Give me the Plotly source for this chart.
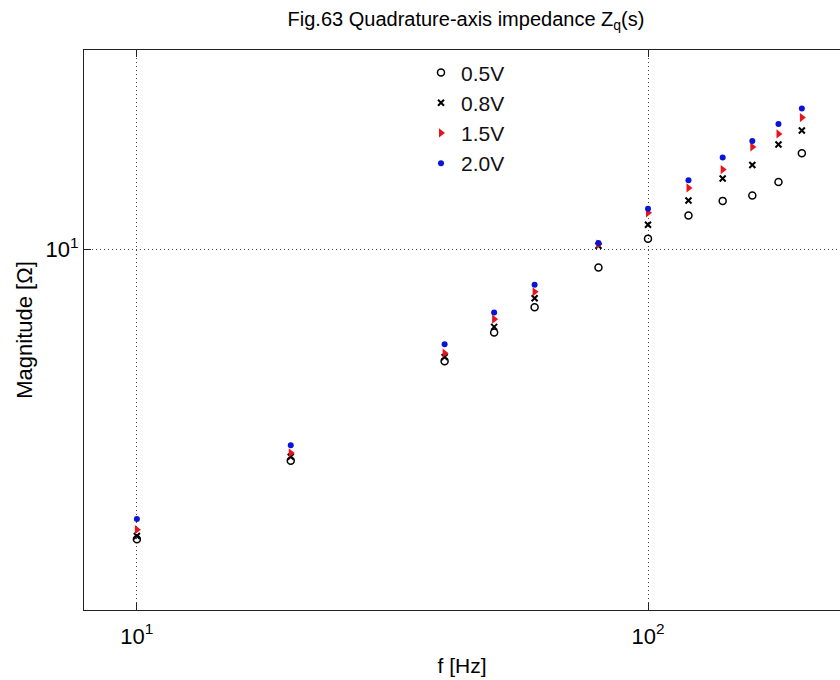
import math
import plotly.graph_objects as go

freq = [10, 20, 40, 50, 60, 80, 100, 120, 140, 160, 180, 200]
mag_05 = [2.71, 3.86, 6.05, 6.88, 7.71, 9.23, 10.51, 11.67, 12.46, 12.77, 13.56, 15.45]
mag_08 = [2.75, 3.93, 6.16, 7.06, 8.03, 10.18, 11.19, 12.48, 13.78, 14.65, 16.06, 17.11]
mag_15 = [2.83, 4.00, 6.27, 7.31, 8.27, 10.25, 11.81, 13.21, 14.35, 15.89, 16.85, 18.14]
mag_20 = [2.97, 4.14, 6.53, 7.53, 8.54, 10.30, 12.03, 13.68, 15.15, 16.33, 17.63, 18.89]

series_names = ["0.5V", "0.8V", "1.5V", "2.0V"]
x_ticks = [10, 100]
x_ticktext = ["10<sup>1</sup>", "10<sup>2</sup>"]
y_ticks = [10]
y_ticktext = ["10<sup>1</sup>"]

FONT = "Liberation Sans, Arial, sans-serif"

styles = [
    dict(symbol="circle-open", color="black", size=7, line=dict(width=1.5, color="black")),
    dict(symbol="x-thin-open", color="black", size=6, line=dict(width=2, color="black")),
    dict(symbol="triangle-right", color="#e8141b", size=8, line=dict(width=0)),
    dict(symbol="circle", color="#0a14d8", size=6, line=dict(width=0)),
]

fig = go.Figure()
for name, vals, st in zip(series_names, [mag_05, mag_08, mag_15, mag_20], styles):
    fig.add_trace(go.Scatter(x=freq, y=vals, mode="markers", name=name, marker=st))

fig.update_layout(
    width=840, height=680,
    margin=dict(l=84, r=0, t=50, b=70),
    paper_bgcolor="white", plot_bgcolor="white",
    font=dict(family=FONT, color="black"),
    title=dict(text="Fig.63 Quadrature-axis impedance Z<sub>q</sub>(s)",
               x=466 / 840, xanchor="center", y=1 - 19 / 680, yanchor="middle",
               font=dict(size=20, family=FONT, color="black")),
    legend=dict(x=(421 - 84) / 756, y=0.996, xanchor="left", yanchor="top",
                bgcolor="rgba(0,0,0,0)", borderwidth=0,
                font=dict(size=21, family=FONT, color="#111")),
    showlegend=True,
)

fig.update_xaxes(
    type="log", range=[math.log10(7.88), math.log10(237.5)],
    tickvals=x_ticks, ticktext=x_ticktext,
    tickfont=dict(size=22, family=FONT),
    ticklabelstandoff=6,
    ticks="inside", ticklen=7, tickcolor="#222",
    showline=True, linecolor="#222", linewidth=1.2, mirror="ticks",
    showgrid=True, gridcolor="#444", griddash="1px,3px", gridwidth=1,
    zeroline=False,
    title=dict(text="f [Hz]", font=dict(size=21, family=FONT), standoff=10),
)
fig.update_yaxes(
    type="log", range=[math.log10(1.97), math.log10(24.6)],
    tickvals=y_ticks, ticktext=y_ticktext,
    tickfont=dict(size=22, family=FONT),
    ticks="inside", ticklen=7, tickcolor="#222",
    showline=True, linecolor="#222", linewidth=1.2,
    showgrid=True, gridcolor="#444", griddash="1px,3px", gridwidth=1,
    zeroline=False,
    title=dict(text="Magnitude [Ω]", font=dict(size=22, family=FONT), standoff=6),
)

fig.write_html("out.html")
